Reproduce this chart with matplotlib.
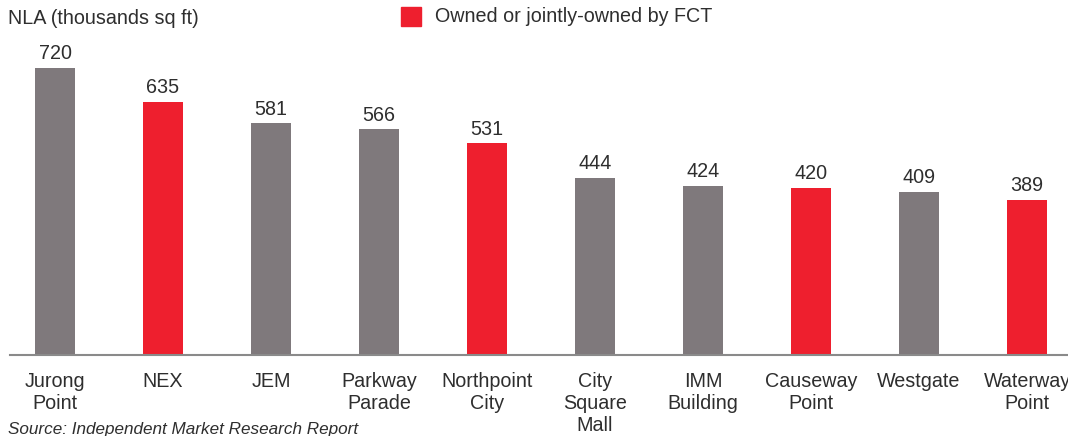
import matplotlib
matplotlib.use("Agg")
import matplotlib.pyplot as plt

categories = ["Jurong\nPoint", "NEX", "JEM", "Parkway\nParade", "Northpoint\nCity",
              "City\nSquare\nMall", "IMM\nBuilding", "Causeway\nPoint", "Westgate", "Waterway\nPoint"]
values = [720, 635, 581, 566, 531, 444, 424, 420, 409, 389]
owned = [False, True, False, False, True, False, False, True, False, True]

GRAY = "#7f797c"
RED = "#ee1f2e"
TXT = "#2e2e2e"
FS = 14.2

plt.rcParams['font.family'] = ['Liberation Sans', 'DejaVu Sans']

W, H = 1068, 436
fig = plt.figure(figsize=(W / 100, H / 100), dpi=100)
ax = fig.add_axes([10 / W, (H - 355) / H, 1058 / W, 325 / H])

x = list(range(len(categories)))
colors = [RED if o else GRAY for o in owned]
ax.bar(x, values, width=40 / 108, color=colors)
for xi, v in zip(x, values):
    ax.text(xi, v + 12, str(v), ha='center', va='bottom', fontsize=FS, color=TXT)

ax.set_xlim((10 - 55) / 108, (1068 - 55) / 108)
ax.set_ylim(0, 325 / 0.3986)
ax.set_xticks(x)
ax.set_xticklabels(categories, fontsize=FS, color=TXT, linespacing=1.22)
ax.tick_params(axis='x', length=0, pad=12)
ax.set_yticks([])
for s in ['top', 'right', 'left']:
    ax.spines[s].set_visible(False)
ax.spines['bottom'].set_color('#8a8a8a')
ax.spines['bottom'].set_linewidth(1.5)

fig.text(8 / W, 1 - 18 / H, "NLA (thousands sq ft)", fontsize=FS, color=TXT, va='center', ha='left')
fig.patches.append(plt.Rectangle((401 / W, 1 - 26 / H), 20 / W, 19 / H,
                                 transform=fig.transFigure, color=RED))
fig.text(435 / W, 1 - 17 / H, "Owned or jointly-owned by FCT", fontsize=FS, color=TXT, va='center', ha='left')
fig.text(8 / W, 1 - 429 / H, "Source: Independent Market Research Report", fontsize=12.3,
         color=TXT, style='italic', va='center', ha='left')

fig.savefig("out.png", dpi=100)
